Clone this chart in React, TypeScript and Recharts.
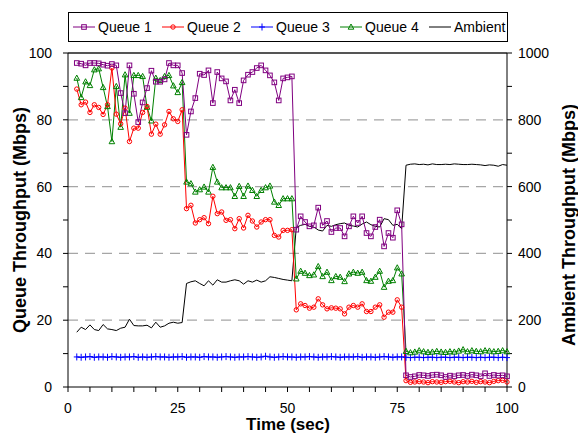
import { LineChart, Line, XAxis, YAxis, ReferenceLine } from "recharts";

// time (sec), one sample per second
const seconds = [
  2, 3, 4, 5, 6, 7, 8, 9, 10, 11, 12, 13, 14, 15, 16, 17, 18, 19, 20, 21, 22, 23, 24, 25, 26,
  27, 28, 29, 30, 31, 32, 33, 34, 35, 36, 37, 38, 39, 40, 41, 42, 43, 44, 45, 46, 47, 48, 49, 50, 51,
  52, 53, 54, 55, 56, 57, 58, 59, 60, 61, 62, 63, 64, 65, 66, 67, 68, 69, 70, 71, 72, 73, 74, 75, 76,
  77, 78, 79, 80, 81, 82, 83, 84, 85, 86, 87, 88, 89, 90, 91, 92, 93, 94, 95, 96, 97, 98, 99, 100,
];

// Mbps, left axis
const queue1 = [
  97.0, 96.8, 96.3, 97.0, 97.0, 96.9, 96.5, 96.2, 96.7, 96.3,
  88.0, 82.0, 96.3, 87.8, 79.3, 85.2, 89.5, 94.7, 91.4, 91.4, 92.1, 97.0, 96.3, 96.3, 94.0, 75.5,
  82.5, 86.5, 93.8, 93.4, 94.8, 85.0, 94.3, 92.4, 91.5, 85.8, 89.0, 85.0, 91.8, 93.5, 94.3, 95.5,
  96.3, 94.8, 93.3, 91.2, 85.8, 92.4, 92.7, 93.0,
  47.1, 51.1, 49.4, 48.1, 48.4, 53.7, 48.4, 49.7, 46.4, 47.6, 47.6, 45.1, 48.1, 51.1, 49.1, 51.1,
  46.1, 45.1, 47.9, 50.1, 42.1, 46.1, 44.7, 52.9, 48.7,
  3.5, 3.0, 3.2, 3.6, 3.5, 3.3, 3.6, 3.7, 3.5, 3.0, 3.4, 3.2, 3.5, 3.6, 3.3, 3.7, 3.5, 3.2, 4.1,
  3.3, 3.6, 3.4, 3.5, 3.2,
];

const queue2 = [
  89.2, 84.5, 85.3, 82.2, 84.5, 83.7, 81.6, 84.5, 95.5, 81.7, 78.8, 83.5, 73.5, 77.5, 77.5, 82.2,
  84.0, 75.7, 78.7, 75.7, 78.5, 82.5, 80.3, 79.5, 83.0,
  53.4, 54.4, 49.1, 50.1, 50.7, 48.9, 57.1, 51.9, 52.4, 49.9, 50.1, 47.4, 50.4, 47.6, 51.4, 49.7,
  47.9, 49.4, 50.1, 50.1, 45.4, 44.9, 46.9, 46.9, 47.1,
  23.1, 24.9, 24.4, 23.6, 23.9, 26.4, 24.6, 23.4, 23.7, 23.6, 23.4, 21.9, 23.9, 24.4, 23.9, 24.9,
  22.6, 22.6, 23.9, 24.6, 20.9, 22.4, 22.4, 26.1, 23.9,
  1.9, 1.4, 1.5, 1.6, 1.5, 1.3, 1.6, 1.5, 1.4, 1.6, 1.7, 1.5, 1.3, 1.6, 1.5, 1.7, 1.4, 1.6, 1.5,
  1.3, 1.7, 1.9, 2.0, 1.5,
];

const queue3 = [
  9.0, 8.9, 9.0, 9.1, 8.9, 9.0, 9.0, 8.9, 9.1, 9.0,
  8.9, 9.0, 9.0, 9.1, 8.9, 9.0, 8.9, 9.0, 9.1, 9.0,
  9.0, 8.9, 9.0, 9.0, 9.1, 8.9, 9.0, 9.0, 8.9, 9.1,
  9.0, 9.0, 8.9, 9.0, 9.1, 9.0, 8.9, 9.0, 9.0, 9.1,
  9.0, 8.9, 9.0, 9.2, 9.0, 8.9, 9.0, 9.1, 9.0, 9.0,
  8.9, 9.0, 9.0, 9.1, 9.0, 8.9, 9.0, 9.0, 9.1, 9.0,
  8.9, 9.0, 9.0, 9.0, 9.1, 8.9, 9.0, 9.0, 8.9, 9.0,
  9.1, 9.0, 8.9, 9.0, 9.0, 8.9, 8.8, 8.9, 8.9, 8.8,
  8.9, 8.9, 8.8, 8.9, 8.9, 8.8, 8.9, 8.9, 8.8, 8.9,
  8.9, 8.8, 8.9, 8.8, 8.9, 8.9, 8.8, 8.9, 8.8,
];

const queue4 = [
  92.5, 86.7, 91.4, 90.3, 95.0, 95.3, 89.7, 84.0, 73.5, 90.0, 77.8, 93.5, 82.0, 93.3, 93.3, 93.0,
  83.8, 79.7, 92.5, 91.8, 93.0, 93.3, 90.2, 88.2, 91.2,
  61.4, 60.9, 58.4, 59.1, 59.9, 58.4, 65.8, 61.4, 59.7, 59.7, 59.7, 57.1, 60.1, 57.1, 60.2, 58.9,
  57.1, 58.9, 59.7, 60.2, 55.4, 54.4, 56.4, 56.4, 56.4,
  32.4, 34.7, 34.1, 33.4, 33.6, 36.1, 33.1, 34.4, 31.9, 33.1, 32.9, 31.6, 33.9, 34.4, 34.1, 34.4,
  31.9, 31.7, 32.9, 34.7, 29.9, 31.7, 31.9, 35.7, 33.9,
  10.7, 10.3, 10.5, 10.9, 10.6, 10.4, 10.5, 10.7, 10.5, 10.4, 10.6, 10.5, 10.8, 11.2, 10.6, 10.9,
  10.7, 10.6, 10.9, 10.8, 10.6, 10.7, 10.9, 10.6,
];

// Mbps, right axis
const ambient = [
  164, 179, 172, 186, 172, 169, 187, 174, 172, 169, 176, 179, 203, 184, 183, 183, 185, 177, 194,
  179, 183, 191, 194, 191, 193,
  310, 315, 318, 310, 303, 318, 305, 321, 314, 314, 318, 321, 318, 308, 318, 314, 320, 314, 318,
  330, 328, 325, 322, 320, 318,
  478, 484, 487, 481, 479, 470, 467, 484, 481, 486, 489, 491, 484, 482, 479, 488, 494, 486, 481,
  479, 504, 501, 484, 487, 474,
  664, 667, 668, 666, 667, 665, 668, 666, 666, 667, 666, 668, 667, 666, 666, 667, 666, 665, 663,
  665, 664, 661, 666, 664,
];

const xTicks = [0, 5, 10, 15, 20, 25, 30, 35, 40, 45, 50, 55, 60, 65, 70, 75, 80, 85, 90, 95, 100];
const leftTicks = [0, 10, 20, 30, 40, 50, 60, 70, 80, 90, 100];
const rightTicks = [0, 100, 200, 300, 400, 500, 600, 700, 800, 900, 1000];
const gridValues = [20, 40, 60, 80];

const PURPLE = "#800080";
const RED = "#FF0000";
const BLUE = "#0000FF";
const GREEN = "#008000";
const FONT = "'Liberation Sans', Arial, sans-serif";

const chartData = seconds.map((t, i) => ({
  t,
  q1: queue1[i],
  q2: queue2[i],
  q3: queue3[i],
  q4: queue4[i],
  amb: ambient[i],
}));

const squareDot = (p: any) => (
  <rect key={`sq-${p.index}`} x={p.cx - 2.3} y={p.cy - 2.3} width={4.6} height={4.6}
    fill="none" stroke={PURPLE} strokeWidth={1} />
);
const circleDot = (p: any) => (
  <circle key={`ci-${p.index}`} cx={p.cx} cy={p.cy} r={2.2} fill="none" stroke={RED} strokeWidth={1} />
);
const triangleDot = (p: any) => (
  <path key={`tr-${p.index}`}
    d={`M${p.cx},${p.cy - 3} L${p.cx + 2.8},${p.cy + 2.2} L${p.cx - 2.8},${p.cy + 2.2} Z`}
    fill="none" stroke={GREEN} strokeWidth={1} />
);
const plusDot = (p: any) => (
  <path key={`pl-${p.index}`}
    d={`M${p.cx - 3},${p.cy} H${p.cx + 3} M${p.cx},${p.cy - 3.5} V${p.cy + 3.5}`}
    stroke={BLUE} strokeWidth={1} />
);

const LegendIcon = ({ color, marker }: { color: string; marker: string }) => (
  <svg width={22} height={10} style={{ display: "block" }}>
    <line x1={0} y1={5} x2={22} y2={5} stroke={color} strokeWidth={1} />
    {marker === "square" && <rect x={8.7} y={2.7} width={4.6} height={4.6} fill="none" stroke={color} />}
    {marker === "circle" && <circle cx={11} cy={5} r={2.2} fill="none" stroke={color} />}
    {marker === "plus" && <path d="M8,5 H14 M11,1.5 V8.5" stroke={color} />}
    {marker === "triangle" && <path d="M11,2 L13.8,7.2 L8.2,7.2 Z" fill="none" stroke={color} />}
  </svg>
);

const legendItems = [
  { label: "Queue 1", color: PURPLE, marker: "square", left: 4 },
  { label: "Queue 2", color: RED, marker: "circle", left: 93 },
  { label: "Queue 3", color: BLUE, marker: "plus", left: 182 },
  { label: "Queue 4", color: GREEN, marker: "triangle", left: 271 },
  { label: "Ambient", color: "#000", marker: "none", left: 360 },
];

const tickStyle = { fill: "#000", fontSize: 14, fontFamily: FONT };

export default function App() {
  return (
    <div style={{ position: "absolute", left: 0, top: 0, width: 578, height: 434, background: "#fff", fontFamily: FONT }}>
      <LineChart width={578} height={434} data={chartData} margin={{ top: 53, right: 11, bottom: 17, left: 8 }}>
        {gridValues.map((v) => (
          <ReferenceLine key={v} yAxisId="left" y={v} stroke="#a6a6a6" strokeWidth={1.3} strokeDasharray="10 7" />
        ))}
        <ReferenceLine yAxisId="left" y={100} stroke="#555" strokeWidth={2} />
        <XAxis
          dataKey="t"
          type="number"
          domain={[0, 100]}
          ticks={xTicks}
          interval={0}
          height={30}
          tickSize={5}
          tickMargin={11}
          tick={tickStyle}
          axisLine={{ stroke: "#000" }}
          tickLine={{ stroke: "#000" }}
          tickFormatter={(v) => (v % 25 === 0 ? String(v) : "")}
        />
        <YAxis
          yAxisId="left"
          domain={[0, 100]}
          ticks={leftTicks}
          interval={0}
          width={60}
          tickSize={5}
          tickMargin={11}
          tick={tickStyle}
          axisLine={{ stroke: "#000" }}
          tickLine={{ stroke: "#000" }}
          tickFormatter={(v) => (v % 20 === 0 ? String(v) : "")}
        />
        <YAxis
          yAxisId="right"
          orientation="right"
          domain={[0, 1000]}
          ticks={rightTicks}
          interval={0}
          width={60}
          tickSize={5}
          tickMargin={6}
          tick={tickStyle}
          axisLine={{ stroke: "#000" }}
          tickLine={{ stroke: "#000" }}
          tickFormatter={(v) => (v % 200 === 0 ? String(v) : "")}
        />
        <Line yAxisId="right" dataKey="amb" stroke="#000" strokeWidth={1} dot={false} activeDot={false} isAnimationActive={false} />
        <Line yAxisId="left" dataKey="q3" stroke={BLUE} strokeWidth={1} dot={plusDot} activeDot={false} isAnimationActive={false} />
        <Line yAxisId="left" dataKey="q4" stroke={GREEN} strokeWidth={1} dot={triangleDot} activeDot={false} isAnimationActive={false} />
        <Line yAxisId="left" dataKey="q2" stroke={RED} strokeWidth={1} dot={circleDot} activeDot={false} isAnimationActive={false} />
        <Line yAxisId="left" dataKey="q1" stroke={PURPLE} strokeWidth={1} dot={squareDot} activeDot={false} isAnimationActive={false} />
      </LineChart>

      {/* legend box */}
      <div style={{ position: "absolute", left: 68, top: 12, width: 438, height: 28, border: "1px solid #000", background: "#fff" }}>
        {legendItems.map((it) => (
          <div key={it.label} style={{ position: "absolute", left: it.left, top: 5, display: "flex", alignItems: "center", gap: 3, fontSize: 14, lineHeight: "18px", color: "#000", whiteSpace: "nowrap" }}>
            <LegendIcon color={it.color} marker={it.marker} />
            <span>{it.label}</span>
          </div>
        ))}
      </div>

      {/* axis titles */}
      <svg width={578} height={434} style={{ position: "absolute", left: 0, top: 0, pointerEvents: "none" }}>
        <text x={20} y={220} transform="rotate(-90 20 220)" textAnchor="middle" dominantBaseline="central"
          fontFamily={FONT} fontWeight="bold" fontSize={18} fill="#000">Queue Throughput (Mbps)</text>
        <text x={569} y={225} transform="rotate(-90 569 225)" textAnchor="middle" dominantBaseline="central"
          fontFamily={FONT} fontWeight="bold" fontSize={18} fill="#000">Ambient Throughput (Mbps)</text>
        <text x={288} y={430} textAnchor="middle" fontFamily={FONT} fontWeight="bold" fontSize={17} fill="#000">Time (sec)</text>
      </svg>
    </div>
  );
}
